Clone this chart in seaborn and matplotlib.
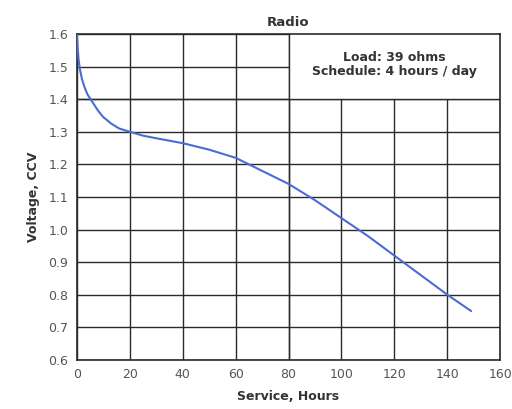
import matplotlib
matplotlib.use("Agg")
import matplotlib.pyplot as plt
import seaborn as sns
import pandas as pd
from matplotlib.patches import Rectangle

hours = [0, 0.3, 0.7, 1.2, 2, 3, 4, 6, 8, 10, 13, 16, 20, 25, 30, 40, 50, 60, 70, 80, 90, 100, 110, 120, 130, 140, 149]
voltage = [1.6, 1.56, 1.52, 1.49, 1.46, 1.435, 1.415, 1.39, 1.365, 1.345, 1.325, 1.31, 1.30, 1.288, 1.28, 1.265, 1.245, 1.22, 1.18, 1.14, 1.09, 1.035, 0.98, 0.92, 0.86, 0.80, 0.75]
x_ticks = [0, 20, 40, 60, 80, 100, 120, 140, 160]
y_ticks = [0.6, 0.7, 0.8, 0.9, 1.0, 1.1, 1.2, 1.3, 1.4, 1.5, 1.6]
title = "Radio"
note_lines = ["Load: 39 ohms", "Schedule: 4 hours / day"]

sns.set_theme(style="white")
plt.rcParams['font.family'] = ['DejaVu Sans']

df = pd.DataFrame({"hours": hours, "voltage": voltage})

fig = plt.figure(figsize=(5.12, 4.09), dpi=100)
ax = fig.add_axes([0.150, 0.120, 0.827, 0.797])

sns.lineplot(data=df, x="hours", y="voltage", ax=ax, color="#4a6cd4", linewidth=1.5, zorder=3)

ax.set_xlim(0, 160)
ax.set_ylim(0.6, 1.6)
ax.set_xticks(x_ticks)
ax.set_yticks(y_ticks)
ax.set_yticklabels([f"{v:.1f}" for v in y_ticks])
ax.set_axisbelow(True)
ax.grid(True, color="#2a2a2a", linewidth=1.0)
for s in ax.spines.values():
    s.set_color("#2a2a2a")
    s.set_linewidth(1.2)

ax.add_patch(Rectangle((80, 1.4), 80, 0.2, facecolor="white", edgecolor="none", zorder=1))
ax.axhline(1.4, color="#2a2a2a", linewidth=1.0, zorder=1.5)
ax.axvline(80, color="#2a2a2a", linewidth=1.0, zorder=1.5)
ax.text(120, 1.505, "\n".join(note_lines), ha="center", va="center", fontsize=9,
        fontweight="bold", color="#333333", linespacing=1.1, zorder=4)

ax.tick_params(axis="both", labelsize=9, colors="#555555", length=0, pad=6)
ax.set_title(title, fontsize=9.5, fontweight="bold", color="#333333", pad=6)
ax.set_xlabel("Service, Hours", fontsize=9, fontweight="bold", color="#333333", labelpad=6)
ax.set_ylabel("Voltage, CCV", fontsize=9, fontweight="bold", color="#333333", labelpad=6)

fig.savefig("out.png", dpi=100, facecolor="white")
